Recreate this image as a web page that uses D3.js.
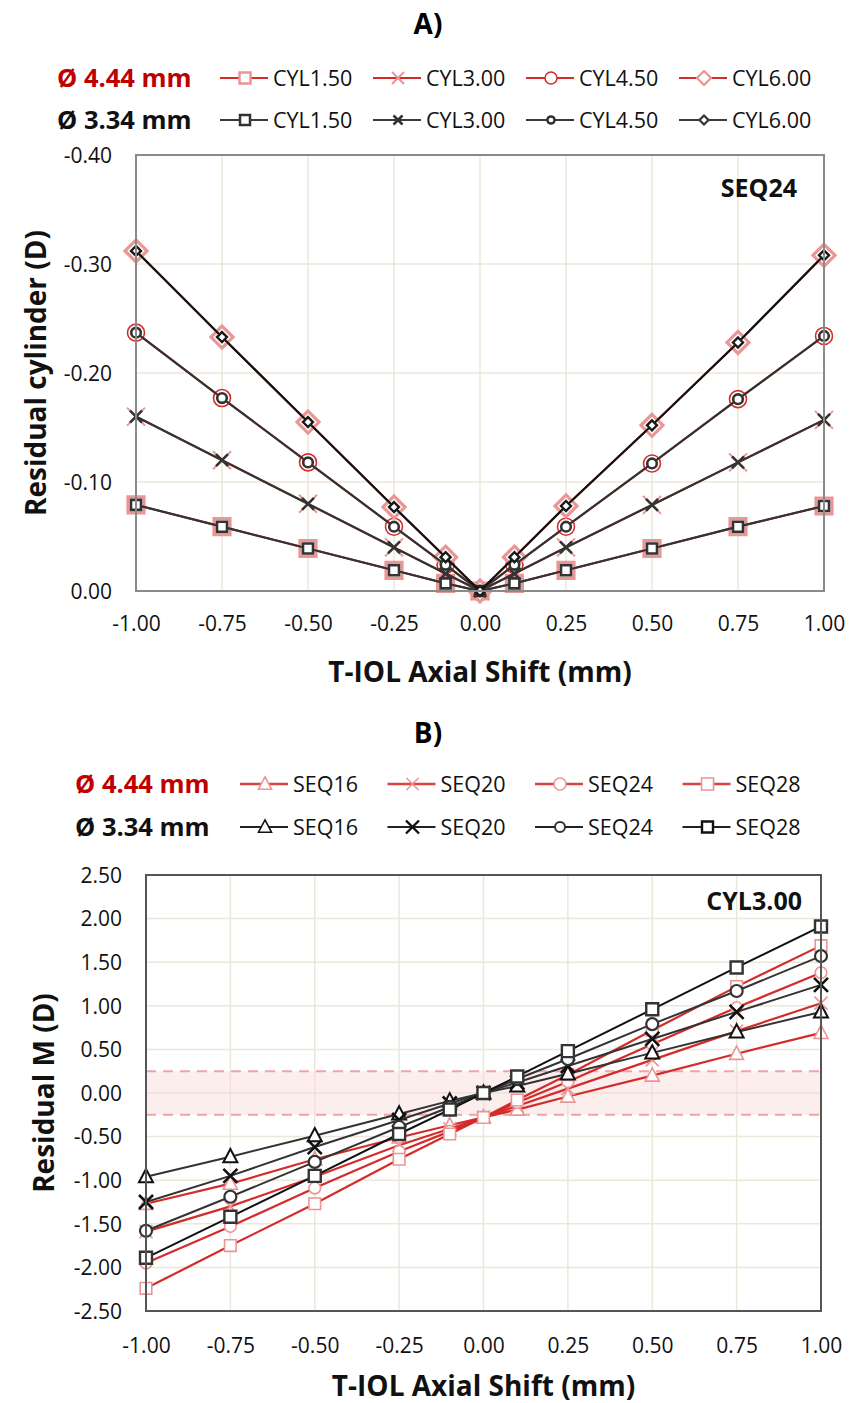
<!DOCTYPE html>
<html>
<head>
<meta charset="utf-8">
<script src="https://cdn.jsdelivr.net/npm/d3@7"></script>
<style>
  html, body { margin: 0; padding: 0; background: #fff; }
  svg { display: block; }
  text { font-family: "Open Sans", "Noto Sans", sans-serif; }
</style>
</head>
<body>
<svg id="chart" width="849" height="1403"></svg>
<script>
// ---------- data ----------
const axialShift = [-1.00, -0.75, -0.50, -0.25, -0.10, 0.00, 0.10, 0.25, 0.50, 0.75, 1.00];

// Panel A: residual cylinder (D) for SEQ24, by toric power
const cylLabels = ["CYL1.50", "CYL3.00", "CYL4.50", "CYL6.00"];
const cyl444_150 = [-0.079, -0.059, -0.039, -0.019, -0.007, 0, -0.007, -0.019, -0.039, -0.059, -0.078];
const cyl444_300 = [-0.160, -0.120, -0.080, -0.040, -0.016, 0, -0.016, -0.040, -0.079, -0.118, -0.157];
const cyl444_450 = [-0.237, -0.177, -0.118, -0.059, -0.024, 0, -0.024, -0.059, -0.117, -0.176, -0.234];
const cyl444_600 = [-0.312, -0.233, -0.155, -0.077, -0.031, 0, -0.031, -0.078, -0.152, -0.228, -0.308];
const cyl334_150 = [-0.079, -0.059, -0.039, -0.019, -0.007, 0, -0.007, -0.019, -0.039, -0.059, -0.078];
const cyl334_300 = [-0.160, -0.120, -0.080, -0.040, -0.016, 0, -0.016, -0.040, -0.079, -0.118, -0.157];
const cyl334_450 = [-0.237, -0.177, -0.118, -0.059, -0.024, 0, -0.024, -0.059, -0.117, -0.176, -0.234];
const cyl334_600 = [-0.312, -0.233, -0.155, -0.077, -0.031, 0, -0.031, -0.078, -0.152, -0.228, -0.308];

// Panel B: residual M (D) for CYL3.00, by spherical equivalent
const seqLabels = ["SEQ16", "SEQ20", "SEQ24", "SEQ28"];
const m444_seq16 = [-1.27, -1.04, -0.76, -0.51, -0.37, -0.28, -0.19, -0.04, 0.20, 0.45, 0.69];
const m444_seq20 = [-1.59, -1.30, -0.96, -0.60, -0.41, -0.28, -0.15, 0.05, 0.38, 0.71, 1.03];
const m444_seq24 = [-1.95, -1.53, -1.09, -0.67, -0.44, -0.28, -0.11, 0.13, 0.56, 0.98, 1.38];
const m444_seq28 = [-2.24, -1.75, -1.27, -0.76, -0.47, -0.28, -0.08, 0.21, 0.72, 1.22, 1.69];
const m334_seq16 = [-0.96, -0.73, -0.49, -0.24, -0.09, 0, 0.08, 0.22, 0.46, 0.70, 0.93];
const m334_seq20 = [-1.25, -0.95, -0.62, -0.31, -0.12, 0, 0.12, 0.31, 0.62, 0.93, 1.24];
const m334_seq24 = [-1.58, -1.19, -0.79, -0.39, -0.16, 0, 0.16, 0.39, 0.79, 1.17, 1.57];
const m334_seq28 = [-1.89, -1.42, -0.95, -0.47, -0.19, 0, 0.19, 0.48, 0.96, 1.44, 1.91];

const toleranceBand = [-0.25, 0.25];

const xTicks = [-1.00, -0.75, -0.50, -0.25, 0.00, 0.25, 0.50, 0.75, 1.00];
const yTicksA = [-0.40, -0.30, -0.20, -0.10, 0.00];
const yTicksB = [2.50, 2.00, 1.50, 1.00, 0.50, 0.00, -0.50, -1.00, -1.50, -2.00, -2.50];

const groupLabels = ["Ø 4.44 mm", "Ø 3.34 mm"];

// ---------- helpers ----------
const svg = d3.select("#chart");
const fmt = v => (Math.abs(v) < 1e-9 ? 0 : v).toFixed(2);

const RED_LINE = "#d42b2b";
const RED_PALE = "#eb9595";
const DARK = "#333333";
const GRID = "#ebe7da";

function shapePath(shape, h) {
  switch (shape) {
    case "square": return `M${-h},${-h}H${h}V${h}H${-h}Z`;
    case "diamond": return `M0,${-h}L${h},0L0,${h}L${-h},0Z`;
    case "triangle": return `M0,${-h * 1.1}L${h},${h * 0.8}L${-h},${h * 0.8}Z`;
    case "cross": return `M${-h},${-h}L${h},${h}M${-h},${h}L${h},${-h}`;
    default: return null;
  }
}

function marker(g, shape, cx, cy, st) {
  if (shape === "circle") {
    g.append("circle").attr("cx", cx).attr("cy", cy).attr("r", st.size)
      .attr("fill", st.fill || "#fff").attr("stroke", st.stroke).attr("stroke-width", st.sw);
  } else {
    g.append("path").attr("transform", `translate(${cx},${cy})`)
      .attr("d", shapePath(shape, st.size))
      .attr("fill", shape === "cross" ? "none" : (st.fill || "#fff"))
      .attr("stroke", st.stroke).attr("stroke-width", st.sw)
      .attr("stroke-linejoin", "miter");
  }
}

function drawSeries(g, x, y, values, lineStyle, shape, markStyle) {
  const line = d3.line().x((d, i) => x(axialShift[i])).y(d => y(d));
  g.append("path").datum(values).attr("d", line)
    .attr("fill", "none").attr("stroke", lineStyle.stroke).attr("stroke-width", lineStyle.sw);
  values.forEach((v, i) => marker(g, shape, x(axialShift[i]), y(v), markStyle));
}

function grid(g, x, y, yTicks, box) {
  g.append("g").selectAll("line").data(xTicks).join("line")
    .attr("x1", d => x(d)).attr("x2", d => x(d))
    .attr("y1", box.top).attr("y2", box.bottom)
    .attr("stroke", GRID).attr("stroke-width", 1.5);
  g.append("g").selectAll("line").data(yTicks).join("line")
    .attr("x1", box.left).attr("x2", box.right)
    .attr("y1", d => y(d)).attr("y2", d => y(d))
    .attr("stroke", GRID).attr("stroke-width", 1.5);
}

function axes(g, x, y, yTicks, box, borderColor, xLabelOffset) {
  g.append("rect").attr("x", box.left).attr("y", box.top)
    .attr("width", box.right - box.left).attr("height", box.bottom - box.top)
    .attr("fill", "none").attr("stroke", borderColor).attr("stroke-width", 2);

  const ax = g.append("g").attr("transform", `translate(0,${box.bottom + xLabelOffset})`)
    .call(d3.axisBottom(x).tickValues(xTicks).tickFormat(fmt).tickSize(0).tickPadding(0));
  ax.select(".domain").remove();
  ax.selectAll("text").attr("font-size", 21).attr("fill", "#111")
    .attr("dy", "0.35em").attr("font-family", "Open Sans");

  const ay = g.append("g").attr("transform", `translate(${box.left - 24},0)`)
    .call(d3.axisLeft(y).tickValues(yTicks).tickFormat(fmt).tickSize(0).tickPadding(0));
  ay.select(".domain").remove();
  ay.selectAll("text").attr("font-size", 21).attr("fill", "#111")
    .attr("dy", "0.35em").attr("font-family", "Open Sans");
}

function legendRow(g, items, x0, step, cy, lineColor, lineW, shapes, mstyle, groupText, groupX, groupColor) {
  g.append("text").attr("x", groupX).attr("y", cy).attr("dy", "0.36em")
    .attr("font-size", 25.5).attr("font-weight", 700).attr("fill", groupColor).text(groupText);
  items.forEach((lab, i) => {
    const lx = x0 + i * step;
    g.append("line").attr("x1", lx).attr("x2", lx + 48).attr("y1", cy).attr("y2", cy)
      .attr("stroke", lineColor).attr("stroke-width", lineW);
    marker(g, shapes[i], lx + 25, cy, mstyle[i]);
    g.append("text").attr("x", lx + 53).attr("y", cy).attr("dy", "0.36em")
      .attr("font-size", 21.5).attr("fill", "#111").text(lab);
  });
}

// ---------- Panel A ----------
{
  const box = { left: 136, right: 824, top: 155, bottom: 591 };
  const x = d3.scaleLinear([-1, 1], [box.left, box.right]);
  const y = d3.scaleLinear([0, -0.40], [box.bottom, box.top]);
  const g = svg.append("g");

  g.append("text").attr("x", 428).attr("y", 24).attr("dy", "0.36em").attr("text-anchor", "middle")
    .attr("font-size", 28).attr("font-weight", 700).text("A)");

  grid(g, x, y, yTicksA, box);

  const shapes = ["square", "cross", "circle", "diamond"];
  const redMarks = [
    { size: 8, stroke: RED_PALE, sw: 3.2 },
    { size: 9, stroke: RED_PALE, sw: 2 },
    { size: 8.5, stroke: RED_LINE, sw: 1.6 },
    { size: 11, stroke: RED_PALE, sw: 3.2 }
  ];
  const darkMarks = [
    { size: 5, stroke: DARK, sw: 2.6 },
    { size: 6, stroke: DARK, sw: 2.6 },
    { size: 4.8, stroke: DARK, sw: 2.6 },
    { size: 5, stroke: "#1a1a1a", sw: 2.4 }
  ];
  const red = [cyl444_150, cyl444_300, cyl444_450, cyl444_600];
  const dark = [cyl334_150, cyl334_300, cyl334_450, cyl334_600];
  const darkLine = [DARK, DARK, DARK, "#111"];

  red.forEach((vals, i) => drawSeries(g, x, y, vals, { stroke: RED_LINE, sw: 2 }, shapes[i], redMarks[i]));
  dark.forEach((vals, i) => drawSeries(g, x, y, vals, { stroke: darkLine[i], sw: 2.2 }, shapes[i], darkMarks[i]));

  axes(g, x, y, yTicksA, box, "#8a8a8a", 33);

  g.append("text").attr("x", 797).attr("y", 197).attr("text-anchor", "end")
    .attr("font-size", 25).attr("font-weight", 700).attr("fill", "#111").text("SEQ24");

  g.append("text").attr("transform", `translate(36,${(box.top + box.bottom) / 2}) rotate(-90)`)
    .attr("text-anchor", "middle").attr("dy", "0.36em")
    .attr("font-size", 28).attr("font-weight", 700).attr("fill", "#111").text("Residual cylinder (D)");
  g.append("text").attr("x", (box.left + box.right) / 2).attr("y", 672).attr("dy", "0.36em")
    .attr("text-anchor", "middle").attr("font-size", 28).attr("font-weight", 700).attr("fill", "#111")
    .text("T-IOL Axial Shift (mm)");

  const lg = svg.append("g");
  legendRow(lg, cylLabels, 220, 153, 78, RED_LINE, 2.2, shapes,
    [{ size: 5.5, stroke: RED_PALE, sw: 2.5 }, { size: 6, stroke: RED_PALE, sw: 2 },
     { size: 6, stroke: RED_LINE, sw: 1.5 }, { size: 7, stroke: RED_PALE, sw: 2.2 }],
    groupLabels[0], 57, "#c00000");
  legendRow(lg, cylLabels, 220, 153, 120, "#3a3a3a", 2.2, shapes,
    [{ size: 5, stroke: DARK, sw: 2.5 }, { size: 4.5, stroke: DARK, sw: 2.5 },
     { size: 3.6, stroke: DARK, sw: 2.5 }, { size: 4.5, stroke: DARK, sw: 2.2 }],
    groupLabels[1], 57, "#111");
}

// ---------- Panel B ----------
{
  const box = { left: 146, right: 821, top: 875, bottom: 1311 };
  const x = d3.scaleLinear([-1, 1], [box.left, box.right]);
  const y = d3.scaleLinear([-2.5, 2.5], [box.bottom, box.top]);
  const g = svg.append("g");

  g.append("text").attr("x", 428).attr("y", 733).attr("dy", "0.36em").attr("text-anchor", "middle")
    .attr("font-size", 28).attr("font-weight", 700).text("B)");

  grid(g, x, y, yTicksB, box);

  // ±0.25 D tolerance band
  g.append("rect").attr("x", box.left).attr("width", box.right - box.left)
    .attr("y", y(toleranceBand[1])).attr("height", y(toleranceBand[0]) - y(toleranceBand[1]))
    .attr("fill", "#f9d4d4").attr("opacity", 0.4);
  g.append("g").selectAll("line").data(toleranceBand).join("line")
    .attr("x1", box.left).attr("x2", box.right)
    .attr("y1", d => y(d)).attr("y2", d => y(d))
    .attr("stroke", "#f4a3a3").attr("stroke-width", 2).attr("stroke-dasharray", "10,7");

  const shapes = ["triangle", "cross", "circle", "square"];
  const redMarks = [
    { size: 7, stroke: RED_PALE, sw: 1.6 },
    { size: 6.5, stroke: RED_PALE, sw: 1.6 },
    { size: 5.8, stroke: RED_PALE, sw: 1.6 },
    { size: 5.8, stroke: RED_PALE, sw: 1.6 }
  ];
  const darkMarks = [
    { size: 7, stroke: "#111", sw: 2 },
    { size: 7, stroke: "#111", sw: 2.6 },
    { size: 6, stroke: DARK, sw: 2.2 },
    { size: 6, stroke: DARK, sw: 2.4 }
  ];
  const red = [m444_seq16, m444_seq20, m444_seq24, m444_seq28];
  const dark = [m334_seq16, m334_seq20, m334_seq24, m334_seq28];
  const darkLine = [DARK, DARK, DARK, "#111"];

  red.forEach((vals, i) => drawSeries(g, x, y, vals, { stroke: RED_LINE, sw: 2.2 }, shapes[i], redMarks[i]));
  dark.forEach((vals, i) => drawSeries(g, x, y, vals, { stroke: darkLine[i], sw: 2 }, shapes[i], darkMarks[i]));

  axes(g, x, y, yTicksB, box, "#555", 35);

  g.append("text").attr("x", 802).attr("y", 910).attr("text-anchor", "end")
    .attr("font-size", 25).attr("font-weight", 700).attr("fill", "#111").text("CYL3.00");

  g.append("text").attr("transform", `translate(44,${(box.top + box.bottom) / 2}) rotate(-90)`)
    .attr("text-anchor", "middle").attr("dy", "0.36em")
    .attr("font-size", 28).attr("font-weight", 700).attr("fill", "#111").text("Residual M (D)");
  g.append("text").attr("x", (box.left + box.right) / 2).attr("y", 1386).attr("dy", "0.36em")
    .attr("text-anchor", "middle").attr("font-size", 28).attr("font-weight", 700).attr("fill", "#111")
    .text("T-IOL Axial Shift (mm)");

  const lg = svg.append("g");
  legendRow(lg, seqLabels, 240, 147.5, 784, "#d94545", 2.4, shapes,
    [{ size: 6.5, stroke: RED_PALE, sw: 1.6 }, { size: 6, stroke: RED_PALE, sw: 1.6 },
     { size: 6, stroke: RED_PALE, sw: 1.6 }, { size: 6, stroke: RED_PALE, sw: 1.6 }],
    groupLabels[0], 75, "#c00000");
  legendRow(lg, seqLabels, 240, 147.5, 827, "#222", 2.2, shapes,
    [{ size: 6.5, stroke: "#111", sw: 1.6 }, { size: 6.5, stroke: "#111", sw: 2.4 },
     { size: 5, stroke: DARK, sw: 2 }, { size: 5.5, stroke: "#111", sw: 2.4 }],
    groupLabels[1], 75, "#111");
}
</script>
</body>
</html>
